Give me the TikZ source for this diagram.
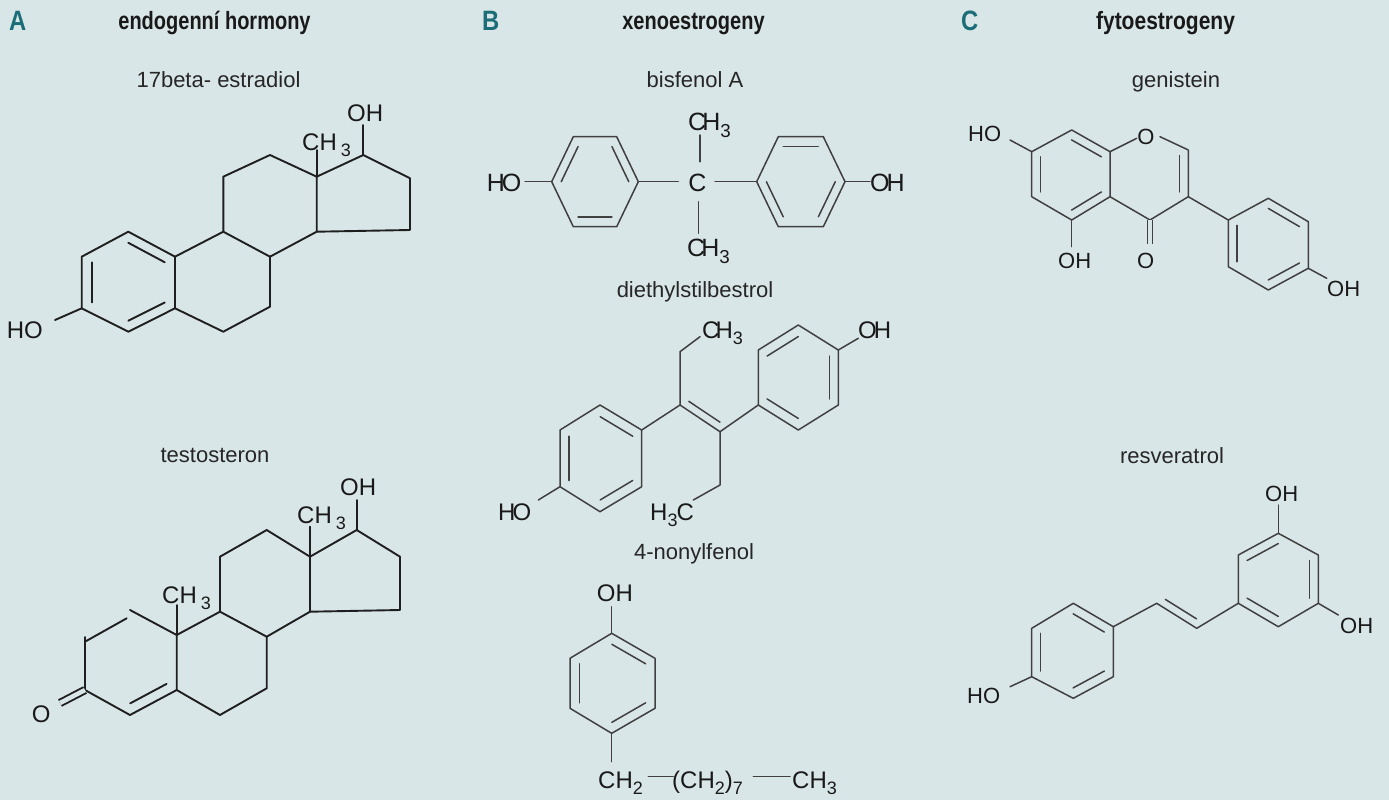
\documentclass[tikz,border=0pt]{standalone}
\usepackage{fontspec}
\setmainfont{Liberation Sans}
\usetikzlibrary{calc}
\definecolor{bgc}{HTML}{D9E6E7}
\definecolor{hdrteal}{HTML}{1B6E77}
\newcommand\dblin[3]{\draw[bs] ($(#1)!0.78!(#2)$) -- ($(#1)!0.78!(#3)$);}
\newcommand\sbs[1]{\raisebox{-0.29em}{\scalebox{0.75}{#1}}}
\newcommand\cond[2]{\scalebox{#1}[1]{#2}}
\tikzset{
 bd/.style={line width=1.9pt, draw=black!88, line cap=round, line join=round},
 bdg/.style={line width=1.5pt, draw=black!75, line cap=round, line join=round},
 bs/.style={bd},
 dbo/.style={line cap=butt, double=bgc, double distance=4.5pt},
 lab/.style={inner sep=0pt, anchor=base west, text=black!90, font=\fontsize{24}{24}\selectfont},
 labc/.style={inner sep=0pt, anchor=center, text=black!90, font=\fontsize{22}{22}\selectfont},
 ttl/.style={inner sep=0pt, anchor=base, font=\fontsize{22}{22}\selectfont, text=black!85},
 hdr/.style={inner sep=0pt, anchor=base, font=\fontsize{25}{25}\selectfont\bfseries, text=black!90},
 hdl/.style={inner sep=0pt, anchor=base west, font=\fontsize{28}{28}\selectfont\bfseries, text=hdrteal},
}
\begin{document}
\begin{tikzpicture}[x=1pt,y=-1pt]
\useasboundingbox (0,0) rectangle (1389,800);
\fill[bgc] (0,0) rectangle (1389,800);

% headers
\node[hdl] (LA) at (9,31) {\cond{0.85}{A}};
\node[hdr] (HA) at (214.5,30) {\cond{0.8}{endogenní hormony}};
\node[hdl] (LB) at (482,31) {\cond{0.85}{B}};
\node[hdr] (HB) at (693.5,30) {\cond{0.8}{xenoestrogeny}};
\node[hdl] (LC) at (961,31) {\cond{0.85}{C}};
\node[hdr] (HC) at (1165.5,30) {\cond{0.84}{fytoestrogeny}};

% titles
\node[ttl] (T1) at (218.5,88) {17beta- estradiol};
\node[ttl] (T2) at (215,462) {testosteron};
\node[ttl] (T3) at (695,88) {bisfenol A};
\node[ttl] (T4) at (695,297) {diethylstilbestrol};
\node[ttl] (T5) at (694,559) {4-nonylfenol};
\node[ttl] (T6) at (1176,87) {genistein};
\node[ttl] (T7) at (1172,463) {resveratrol};

% ===== estradiol =====
\coordinate (a1) at (128.3,231.7); \coordinate (a2) at (175,256.7);
\coordinate (a3) at (175,308.3); \coordinate (a4) at (128.3,331.7);
\coordinate (a5) at (81.7,308.3); \coordinate (a6) at (81.7,256.7);
\coordinate (ac) at (128.3,282);
\coordinate (b1) at (223.3,231.7); \coordinate (b2) at (270,256.7);
\coordinate (b3) at (270,306.7); \coordinate (b4) at (223.3,331.7);
\coordinate (c1) at (223.3,176.7); \coordinate (c2) at (270,155);
\coordinate (c3) at (316.7,176.7); \coordinate (c4) at (316.7,231.7);
\coordinate (d1) at (363.3,155); \coordinate (d2) at (410,178.3);
\coordinate (d3) at (410,230);
\coordinate (em) at (316.7,150); \coordinate (eo) at (363.3,125);
\coordinate (eh) at (55,320);
\draw[bd] (a1)--(a2)--(a3)--(a4)--(a5)--(a6)--cycle;
\draw[bd] (a2)--(b1)--(b2)--(b3)--(b4)--(a3);
\draw[bd] (b1)--(c1)--(c2)--(c3)--(c4)--(b2);
\draw[bd] (c3)--(d1)--(d2)--(d3)--(c4);
\draw[bd] (c3)--(em);
\draw[bd] (d1)--(eo);
\draw[bd] (a5)--(eh);
\dblin{ac}{a1}{a2}
\dblin{ac}{a6}{a5}
\dblin{ac}{a4}{a3}
\node[lab] (eOH) at (347,121.7) {OH};
\node[lab] (eHO) at (6.7,338) {HO};
\node[lab] (eCH) at (302,150) {CH\,\sbs{3}};

% ===== testosterone =====
\coordinate (t1) at (130,610); \coordinate (t1x) at (126.7,618.3);
\coordinate (t2) at (85,641.7); \coordinate (t2x) at (85,637);
\coordinate (t3) at (85,690);
\coordinate (t4) at (130,715); \coordinate (t5) at (176.7,690);
\coordinate (t10) at (176.7,635); \coordinate (t9) at (220,611.7);
\coordinate (t8) at (266.7,636.7); \coordinate (t7) at (266.7,688.3);
\coordinate (t6) at (220,715); \coordinate (t11) at (220,556.7);
\coordinate (t12) at (266.7,530); \coordinate (t13) at (310,556.7);
\coordinate (t14) at (310,611.7); \coordinate (t17) at (356.7,530);
\coordinate (t16) at (400,556.7); \coordinate (t15) at (400,610);
\coordinate (tm10) at (176.7,605); \coordinate (tm13) at (310,526.7);
\coordinate (to17) at (356.7,500); \coordinate (tO) at (60,703);
\coordinate (tac) at (131,662);
\draw[bd] (t2)--(t1x);
\draw[bd] (t1)--(t10)--(t5)--(t4)--(t3)--(t2x);
\draw[bd] (t10)--(t9)--(t8)--(t7)--(t6)--(t5);
\draw[bd] (t9)--(t11)--(t12)--(t13)--(t14)--(t8);
\draw[bd] (t13)--(t17)--(t16)--(t15)--(t14);
\draw[bd] (t10)--(tm10);
\draw[bd] (t13)--(tm13);
\draw[bd] (t17)--(to17);
\draw[bd,dbo] (t3)--(tO);
\dblin{tac}{t4}{t5}
\node[lab] (tOH) at (340,495) {OH};
\node[lab] (tOx) at (31.7,722) {O};
\node[lab] (tCH1) at (162,603) {CH\,\sbs{3}};
\node[lab] (tCH2) at (297,523) {CH\,\sbs{3}};

% ===== bisphenol A =====
\begin{scope}[bs/.style={bdg}, lab/.append style={font=\fontsize{25}{25}\selectfont}]
\coordinate (p1) at (551.7,181.7); \coordinate (p2) at (573.3,136.7);
\coordinate (p3) at (616.7,136.7); \coordinate (p4) at (638.3,181.7);
\coordinate (p5) at (616.7,226.7); \coordinate (p6) at (573.3,226.7);
\coordinate (pc) at (595,181.7);
\coordinate (q1) at (756.7,181.7); \coordinate (q2) at (778.3,136.7);
\coordinate (q3) at (823.3,136.7); \coordinate (q4) at (845,181.7);
\coordinate (q5) at (823.3,226.7); \coordinate (q6) at (778.3,226.7);
\coordinate (qc) at (800.8,181.7);
\coordinate (bh) at (525,181.7); \coordinate (bo) at (870,181.7);
\coordinate (bcl) at (678.3,181.7); \coordinate (bcr) at (715,181.7);
\coordinate (bt1) at (700,135); \coordinate (bt2) at (700,161.7);
\coordinate (bb1) at (698.3,201.7); \coordinate (bb2) at (698.3,233.3);
\draw[bdg] (p1)--(p2)--(p3)--(p4)--(p5)--(p6)--cycle;
\draw[bdg] (q1)--(q2)--(q3)--(q4)--(q5)--(q6)--cycle;
\dblin{pc}{p1}{p2}
\dblin{pc}{p3}{p4}
\dblin{pc}{p6}{p5}
\dblin{qc}{q2}{q3}
\dblin{qc}{q4}{q5}
\dblin{qc}{q6}{q1}
\draw[bdg] (bh)--(p1);
\draw[bdg] (p4)--(bcl);
\draw[bdg] (bcr)--(q1);
\draw[bdg] (q4)--(bo);
\draw[bdg] (bt1)--(bt2);
\draw[bdg] (bb1)--(bb2);
\node[lab] (bHO) at (486.7,191.7) {H\kern-3pt O};
\node[lab] (bOH) at (870,191.7) {O\kern-3pt H};
\node[lab, anchor=base] (bC) at (697.5,191.7) {C};
\node[lab] (bCH1) at (688,130) {C\kern-4pt H\sbs{3}};
\node[lab] (bCH2) at (687,256.7) {C\kern-4pt H\sbs{3}};
\end{scope}

% ===== diethylstilbestrol =====
\begin{scope}[bs/.style={bdg}]
\coordinate (l1) at (600,405); \coordinate (l2) at (641.7,430);
\coordinate (l3) at (641.7,486.7); \coordinate (l4) at (600,511.7);
\coordinate (l5) at (560,486.7); \coordinate (l6) at (560,430);
\coordinate (lc) at (600.8,458.3);
\coordinate (r1) at (758.3,350); \coordinate (r2) at (798.3,325);
\coordinate (r3) at (838.3,350); \coordinate (r4) at (838.3,405);
\coordinate (r5) at (798.3,430); \coordinate (r6) at (758.3,405);
\coordinate (rc) at (798.3,377.5);
\coordinate (e1) at (680,405); \coordinate (e2) at (720,431.7);
\coordinate (ec) at (720,388.4);
\coordinate (u1) at (680,351.7); \coordinate (u2) at (700,336.7);
\coordinate (w1) at (720,485); \coordinate (w2) at (693.3,500);
\coordinate (dh) at (538.3,500); \coordinate (do) at (858.3,338.3);
\draw[bdg] (l1)--(l2)--(l3)--(l4)--(l5)--(l6)--cycle;
\draw[bdg] (r1)--(r2)--(r3)--(r4)--(r5)--(r6)--cycle;
\dblin{lc}{l6}{l5}
\dblin{lc}{l1}{l2}
\dblin{lc}{l4}{l3}
\dblin{rc}{r1}{r2}
\dblin{rc}{r3}{r4}
\dblin{rc}{r6}{r5}
\draw[bdg] (l2)--(e1)--(e2)--(r6);
\dblin{ec}{e1}{e2}
\draw[bdg] (e1)--(u1)--(u2);
\draw[bdg] (e2)--(w1)--(w2);
\draw[bdg] (dh)--(l5);
\draw[bdg] (r3)--(do);
\node[lab] (dCH) at (702,338) {C\kern-4pt H\sbs{3}};
\node[lab] (dHC) at (650,520) {H\sbs{3}\kern-1pt C};
\node[lab] (dHO) at (498,520) {H\kern-3pt O};
\node[lab] (dOH) at (858,338) {O\kern-3pt H};
\end{scope}

% ===== 4-nonylphenol =====
\begin{scope}[bs/.style={bdg}]
\coordinate (n1) at (611.7,633.3); \coordinate (n2) at (655,658.3);
\coordinate (n3) at (655,708.3); \coordinate (n4) at (611.7,733.3);
\coordinate (n5) at (570,708.3); \coordinate (n6) at (570,658.3);
\coordinate (nc) at (612.5,683.3);
\coordinate (no) at (611.7,606.7); \coordinate (nb) at (611.7,761.7);
\coordinate (nx1) at (648.3,776.7); \coordinate (nx2) at (673.3,776.7);
\coordinate (ny1) at (753.3,776.7); \coordinate (ny2) at (790,776.7);
\draw[bdg] (n1)--(n2)--(n3)--(n4)--(n5)--(n6)--cycle;
\dblin{nc}{n1}{n2}
\dblin{nc}{n6}{n5}
\dblin{nc}{n4}{n3}
\draw[bdg] (no)--(n1);
\draw[bdg] (n4)--(nb);
\draw[bdg] (nx1)--(nx2);
\draw[bdg] (ny1)--(ny2);
\node[lab] (nOH) at (596.7,601.7) {OH};
\node[lab] (nCH2) at (598,788) {CH\sbs{2}};
\node[lab] (nCH7) at (672,788) {(CH\sbs{2})\sbs{7}};
\node[lab] (nCH3) at (792,788) {CH\sbs{3}};
\end{scope}

% ===== genistein =====
\begin{scope}[bs/.style={bdg}, lab/.append style={font=\fontsize{22}{22}\selectfont}]
\coordinate (g1) at (1071.7,130); \coordinate (g2) at (1110,151.7);
\coordinate (g3) at (1110,196.7); \coordinate (g4) at (1071.7,220);
\coordinate (g5) at (1031.7,196.7); \coordinate (g6) at (1031.7,151.7);
\coordinate (gc) at (1071,175);
\coordinate (k1a) at (1136.7,138.3); \coordinate (k1b) at (1160,136.7);
\coordinate (k2) at (1188.3,150); \coordinate (k3) at (1188.3,196.7);
\coordinate (k4) at (1150,220); \coordinate (kc) at (1149,175);
\coordinate (kO) at (1150,244);
\coordinate (h1) at (1228.3,220); \coordinate (h2) at (1268.3,198.3);
\coordinate (h3) at (1308.3,221.7); \coordinate (h4) at (1308.3,268.3);
\coordinate (h5) at (1268.3,290); \coordinate (h6) at (1228.3,266.7);
\coordinate (hc) at (1268.3,244.2);
\coordinate (gob) at (1071.7,246.7); \coordinate (gho) at (1010,140);
\coordinate (gor) at (1326.7,278.3);
\draw[bdg] (g1)--(g2)--(g3)--(g4)--(g5)--(g6)--cycle;
\draw[bdg] (g2)--(k1a);
\draw[bdg] (k1b)--(k2)--(k3)--(k4)--(g3);
\dblin{gc}{g1}{g2}
\dblin{gc}{g6}{g5}
\dblin{gc}{g4}{g3}
\dblin{kc}{k2}{k3}
\draw[bdg,dbo,double distance=3.5pt] (k4)--(kO);
\draw[bdg] (g4)--(gob);
\draw[bdg] (gho)--(g6);
\draw[bdg] (k3)--(h1);
\draw[bdg] (h1)--(h2)--(h3)--(h4)--(h5)--(h6)--cycle;
\dblin{hc}{h2}{h3}
\dblin{hc}{h1}{h6}
\dblin{hc}{h5}{h4}
\draw[bdg] (h4)--(gor);
\node[lab] (gHO) at (968,141.7) {HO};
\node[labc] (gO1) at (1145.8,137) {O};
\node[lab] (gOH1) at (1058,268) {OH};
\node[lab] (gO2) at (1137,268) {O};
\node[lab] (gOH2) at (1327,296.7) {OH};
\end{scope}

% ===== resveratrol =====
\begin{scope}[bs/.style={bdg}, lab/.append style={font=\fontsize{22}{22}\selectfont}]
\coordinate (s1) at (1073.3,603.3); \coordinate (s2) at (1113.3,626.7);
\coordinate (s3) at (1113.3,676.7); \coordinate (s4) at (1073.3,698.3);
\coordinate (s5) at (1031.7,676.7); \coordinate (s6) at (1031.7,628.3);
\coordinate (sc) at (1072.5,651);
\coordinate (v1) at (1156.7,603.3); \coordinate (v2) at (1196.7,628.3);
\coordinate (vc) at (1195.8,585.3);
\coordinate (R1) at (1238.3,555); \coordinate (R2) at (1278.3,533.3);
\coordinate (R3) at (1318.3,555); \coordinate (R4) at (1318.3,603.3);
\coordinate (R5) at (1278.3,626.7); \coordinate (R6) at (1238.3,603.3);
\coordinate (Rc) at (1278.3,580);
\coordinate (rot) at (1278.3,505); \coordinate (ror) at (1338.3,615);
\coordinate (rho) at (1010,686.7);
\draw[bdg] (s1)--(s2)--(s3)--(s4)--(s5)--(s6)--cycle;
\draw[bdg] (R1)--(R2)--(R3)--(R4)--(R5)--(R6)--cycle;
\dblin{sc}{s1}{s2}
\dblin{sc}{s6}{s5}
\dblin{sc}{s4}{s3}
\dblin{Rc}{R1}{R2}
\dblin{Rc}{R3}{R4}
\dblin{Rc}{R6}{R5}
\draw[bdg] (s2)--(v1)--(v2)--(R6);
\dblin{vc}{v1}{v2}
\draw[bdg] (R2)--(rot);
\draw[bdg] (R4)--(ror);
\draw[bdg] (rho)--(s5);
\node[lab] (rOH1) at (1265,501.7) {OH};
\node[lab] (rOH2) at (1340,633.3) {OH};
\node[lab] (rHO) at (967,703.3) {HO};
\end{scope}
\end{tikzpicture}
\end{document}
